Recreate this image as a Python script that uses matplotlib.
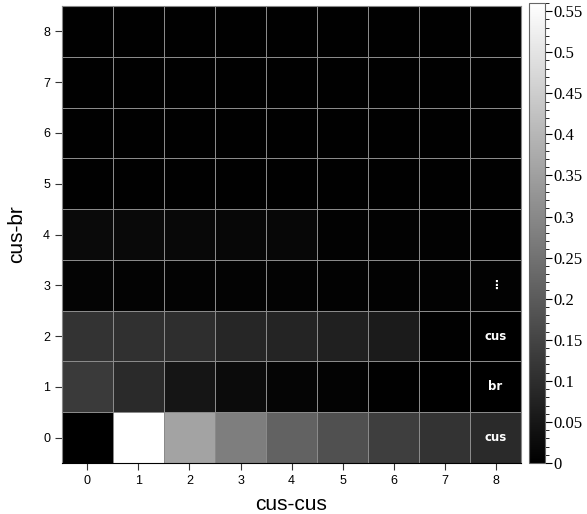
import numpy as np
import matplotlib.pyplot as plt
from matplotlib.ticker import MultipleLocator, FuncFormatter

# Data: rows = cus-br (0..8), cols = cus-cus (0..8)
cus_cus = list(range(9))
cus_br = list(range(9))
row0 = [0.000, 0.560, 0.358, 0.277, 0.215, 0.176, 0.136, 0.112, 0.092]
row1 = [0.127, 0.092, 0.048, 0.026, 0.011, 0.007, 0.004, 0.002, 0.001]
row2 = [0.112, 0.107, 0.101, 0.085, 0.079, 0.070, 0.061, 0.004, 0.001]
row3 = [0.009, 0.008, 0.008, 0.007, 0.007, 0.006, 0.006, 0.005, 0.005]
row4 = [0.022, 0.020, 0.018, 0.017, 0.016, 0.006, 0.005, 0.005, 0.004]
row5 = [0.004, 0.004, 0.004, 0.004, 0.004, 0.004, 0.004, 0.004, 0.004]
row6 = [0.004, 0.004, 0.004, 0.004, 0.004, 0.004, 0.004, 0.004, 0.004]
row7 = [0.004, 0.004, 0.004, 0.004, 0.004, 0.004, 0.004, 0.004, 0.004]
row8 = [0.004, 0.004, 0.004, 0.004, 0.004, 0.004, 0.004, 0.004, 0.004]
side_labels = ['cus', 'br', 'cus', '\u22ee']

Z = np.array([row0, row1, row2, row3, row4, row5, row6, row7, row8])

fig = plt.figure(figsize=(5.87, 5.14), dpi=100)
ax = fig.add_axes([0.1056, 0.0992, 0.782, 0.889])
cax = fig.add_axes([0.901, 0.0992, 0.027, 0.895])

edges = np.arange(-0.5, 9.5, 1)
mesh = ax.pcolormesh(edges, edges, Z, cmap='gray', vmin=0, vmax=0.56,
                     edgecolors='#8a8a8a', linewidth=0.5)
ax.set_xlim(-0.5, 8.5)
ax.set_ylim(-0.5, 8.5)
ax.set_xticks(cus_cus)
ax.set_yticks(cus_br)
ax.tick_params(direction='out', length=5, labelsize=9, color='#333333')
for lab in ax.get_xticklabels() + ax.get_yticklabels():
    lab.set_family('Liberation Sans')
for s in ['left', 'top', 'right']:
    ax.spines[s].set_color('#888888')
ax.spines['bottom'].set_color('black')

ax.set_xlabel('cus-cus', fontsize=15, family='Liberation Sans', labelpad=6)
ax.set_ylabel('cus-br', fontsize=15, family='Liberation Sans', labelpad=12)

# labels in the last column
for i, t in enumerate(side_labels):
    ax.text(8, i, t, color='white', ha='center', va='center',
            fontsize=8.5, fontweight='bold', family='DejaVu Sans')

cb = fig.colorbar(mesh, cax=cax)
cb.outline.set_edgecolor('#666666')
cb.set_ticks(np.arange(0, 0.5501, 0.05))
cax.yaxis.set_minor_locator(MultipleLocator(0.01))
cax.yaxis.set_major_formatter(FuncFormatter(lambda v, p: ('%.2f' % v).rstrip('0').rstrip('.') if v > 0 else '0'))
cax.tick_params(which='major', length=5, labelsize=12, direction='out', pad=1)
cax.tick_params(which='minor', length=3, direction='out')
for lab in cax.get_yticklabels():
    lab.set_family('Liberation Serif')

plt.savefig('out.png', dpi=100)
